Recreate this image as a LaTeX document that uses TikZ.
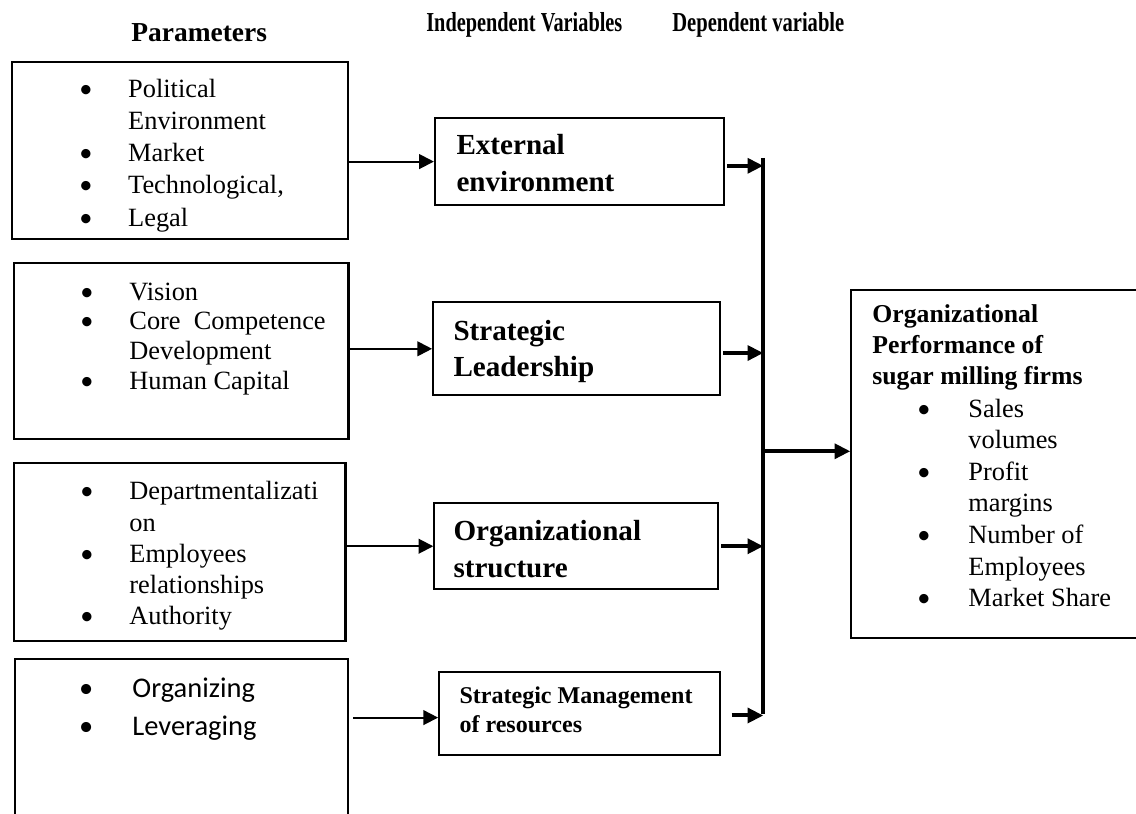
\documentclass[tikz,border=0pt]{standalone}
\usepackage{fontspec}
\setmainfont{Liberation Serif}
\newfontfamily\calibri{Carlito}
\usetikzlibrary{arrows.meta}

\newcommand{\blt}[1][17pt]{\leavevmode\llap{{\calibri\textbullet}\hspace{#1}}}

\begin{document}
\begin{tikzpicture}[
	box/.style={draw, line width=1pt, anchor=north west, inner sep=0pt},
	txt/.style={anchor=base west, inner sep=0pt, text width=5cm, align=flush left},
	head/.style={font=\fontsize{13}{16}\selectfont\bfseries},
	link/.style={line width=0.9pt, -{Triangle[length=7pt, width=7pt]}},
	feed/.style={line width=1.9pt, -{Triangle[length=7.5pt, width=7pt]}}]

	\useasboundingbox (0,0) rectangle (18.93,-13.55);
	\clip (0,0) rectangle (18.93,-13.55);

	% column heads
	\node [head, anchor=base] (hpar) at (3.32,-0.70) {Parameters};
	\node [head, anchor=base west] (hind) at (6.98,-0.52) {\scalebox{0.74}[1]{Independent Variables}};
	\node [head, anchor=base west] (hdep) at (11.08,-0.52) {\scalebox{0.75}[1]{Dependent variable}};

	% parameter boxes
	\node [box, minimum width=5.60cm, minimum height=2.95cm] (p1) at (0.18,-1.02) {};
	\node [box, minimum width=5.57cm, minimum height=2.93cm] (p2) at (0.22,-4.37) {};
	\node [box, minimum width=5.52cm, minimum height=2.97cm] (p3) at (0.22,-7.70) {};
	\node [box, minimum width=5.55cm, minimum height=2.90cm] (p4) at (0.23,-10.97) {};

	\node [txt, font=\fontsize{12.5}{15.2}\selectfont] (l1) at (2.13,-1.63)
		{\blt Political\\ Environment\\ \blt Market\\ \blt Technological,\\ \blt Legal};
	\node [txt, font=\fontsize{12.5}{14.1}\selectfont] (l2) at (2.15,-5.00)
		{\blt Vision\\ \blt Core~ Competence\\ Development\\ \blt Human Capital};
	\node [txt, font=\fontsize{12.5}{14.8}\selectfont] (l3) at (2.15,-8.33)
		{\blt Departmentalizati\\ on\\ \blt Employees\\ relationships\\ \blt Authority};
	\node [txt, font=\calibri\fontsize{13.5}{18}\selectfont] (l4) at (2.20,-11.62)
		{\blt[18.5pt]Organizing\\ \blt[18.5pt]Leveraging};

	% independent variables
	\node [box, minimum width=4.82cm, minimum height=1.45cm] (ext) at (7.23,-1.95) {};
	\node [box, minimum width=4.78cm, minimum height=1.55cm] (sl) at (7.20,-5.02) {};
	\node [box, minimum width=4.73cm, minimum height=1.43cm] (os) at (7.22,-8.37) {};
	\node [box, minimum width=4.68cm, minimum height=1.38cm] (smr) at (7.30,-11.18) {};

	\node [txt, font=\fontsize{13.8}{17.5}\selectfont\bfseries] (t1) at (7.60,-2.58) {External\\ environment};
	\node [txt, font=\fontsize{13.8}{17}\selectfont\bfseries] (t2) at (7.55,-5.67) {Strategic\\ Leadership};
	\node [txt, font=\fontsize{13.8}{17.5}\selectfont\bfseries] (t3) at (7.55,-9.00) {Organizational\\ structure};
	\node [txt, font=\fontsize{11.4}{13.8}\selectfont\bfseries] (t4) at (7.65,-11.72) {Strategic Management\\ of resources};

	% dependent variable
	\node [box, minimum width=5.00cm, minimum height=5.80cm] (dv) at (14.17,-4.82) {};
	\node [txt, font=\fontsize{12.2}{14.7}\selectfont\bfseries] (t5) at (14.53,-5.38)
		{Organizational\\ Performance of\\ sugar milling firms};
	\node [txt, font=\fontsize{12.5}{15}\selectfont] (l5) at (16.13,-6.95)
		{\blt[18pt]Sales\\ volumes\\ \blt[18pt]Profit\\ margins\\ \blt[18pt]Number of\\ Employees\\ \blt[18pt]Market Share};

	% parameters to variables
	\draw [link] (ext.west -| p1.east) -- (ext.west);
	\draw [link] (sl.west -| p2.east) -- (sl.west);
	\draw [link] (os.west -| p3.east) -- (os.west);
	\draw [link, shorten <=2pt] ([yshift=-2pt]smr.west -| p4.east) -- ([yshift=-2pt]smr.west);

	% collecting line
	\coordinate (bustop) at (12.72,-2.63);
	\coordinate (busbot) at (12.72,-11.90);
	\coordinate (busmid) at (12.72,-7.52);
	\draw [line width=1.9pt] (bustop) -- (busbot);

	\draw [feed] ([xshift=1pt, yshift=-2pt]ext.east) -- ([yshift=-2pt]ext.east -| bustop);
	\draw [feed] ([xshift=1pt, yshift=-2pt]sl.east) -- ([yshift=-2pt]sl.east -| bustop);
	\draw [feed] ([xshift=1pt]os.east) -- (os.east -| bustop);
	\draw [feed] ([xshift=5pt, yshift=-1pt]smr.east) -- ([yshift=-1pt]smr.east -| bustop);
	\draw [feed] (busmid) -- (busmid -| dv.west);
\end{tikzpicture}
\end{document}
